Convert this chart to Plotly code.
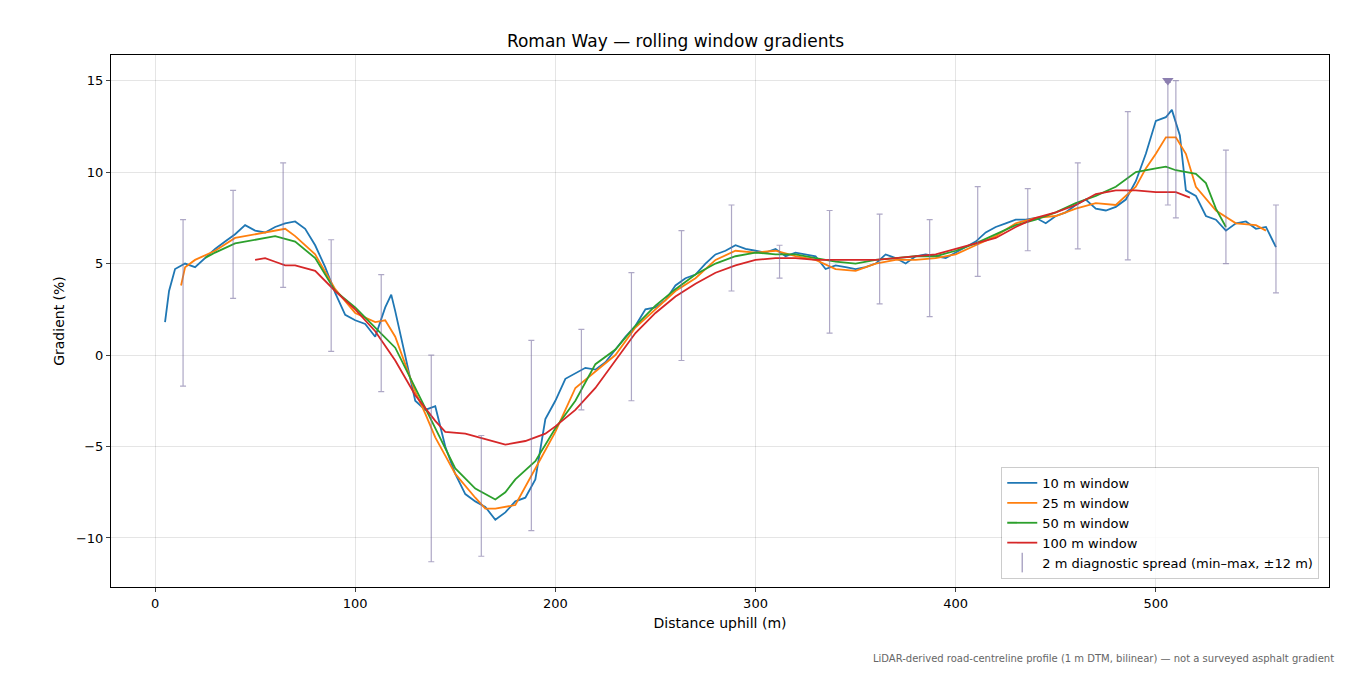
import plotly.graph_objects as go

x10 = [5,7,10,15,20,25,30,35,40,45,50,55,60,65,70,75,80,85,90,95,100,105,110,115,118,120,125,130,135,140,145,150,155,160,165,170,175,180,185,190,195,200,205,210,215,220,225,230,235,240,245,250,255,260,265,270,275,280,285,290,295,300,305,310,315,320,325,330,335,340,345,350,355,360,365,370,375,380,385,390,395,400,405,410,415,420,425,430,435,440,445,450,455,460,465,470,475,480,485,490,495,500,505,508,512,515,520,525,530,535,540,545,550,555,560]
y10 = [1.8,3.5,4.7,5.0,4.8,5.3,5.8,6.2,6.6,7.1,6.8,6.7,7.0,7.2,7.3,6.9,6.0,4.8,3.4,2.2,1.9,1.7,1.0,2.6,3.3,2.4,0.0,-2.5,-3.0,-2.8,-5.0,-6.5,-7.6,-8.0,-8.3,-9.0,-8.6,-8.0,-7.8,-6.8,-3.5,-2.5,-1.3,-1.0,-0.7,-0.8,-0.4,0.3,1.0,1.6,2.5,2.6,3.0,3.8,4.2,4.4,5.0,5.5,5.7,6.0,5.8,5.7,5.6,5.8,5.4,5.6,5.5,5.4,4.7,4.9,4.8,4.7,4.8,5.0,5.5,5.3,5.0,5.4,5.5,5.4,5.3,5.6,5.9,6.2,6.7,7.0,7.2,7.4,7.4,7.5,7.2,7.6,7.8,8.2,8.5,8.0,7.9,8.1,8.5,9.5,11.0,12.8,13.0,13.4,12.0,9.0,8.7,7.6,7.4,6.8,7.2,7.3,6.9,7.0,5.9]

x25 = [13,15,20,30,40,50,60,65,70,80,90,100,110,115,120,125,130,135,140,145,150,160,165,170,180,190,200,205,210,220,230,240,250,260,270,280,290,300,310,320,330,340,350,360,370,380,390,400,410,420,430,440,450,460,470,480,490,495,500,505,510,515,520,530,540,550,555]
y25 = [3.8,4.8,5.2,5.7,6.4,6.6,6.8,6.9,6.5,5.5,3.6,2.3,1.8,1.9,1.0,-0.5,-2.0,-3.2,-4.5,-5.5,-6.5,-7.8,-8.4,-8.4,-8.2,-6.2,-4.2,-3.0,-1.8,-0.9,0.0,1.5,2.5,3.5,4.2,5.2,5.7,5.6,5.7,5.4,5.2,4.7,4.6,5.0,5.2,5.2,5.3,5.5,6.0,6.5,7.2,7.5,7.6,8.0,8.3,8.2,9.2,10.2,11.0,11.9,11.9,11.0,9.2,7.9,7.2,7.1,6.8]

x50 = [25,30,40,50,60,70,80,90,100,110,120,130,140,150,160,170,175,180,190,200,210,220,230,240,250,260,270,280,290,300,310,320,330,340,350,360,370,380,390,400,410,420,430,440,450,460,470,480,490,500,505,510,520,525,530,535]
y50 = [5.3,5.6,6.1,6.3,6.5,6.2,5.3,3.5,2.6,1.5,0.4,-1.8,-4.0,-6.2,-7.3,-7.9,-7.5,-6.8,-5.8,-4.0,-2.5,-0.5,0.3,1.6,2.7,3.6,4.4,5.0,5.4,5.6,5.5,5.5,5.3,5.1,5.0,5.2,5.3,5.4,5.4,5.7,6.1,6.6,7.1,7.4,7.8,8.3,8.7,9.2,10.0,10.2,10.3,10.1,9.9,9.4,8.0,7.0]

x100 = [50,55,60,65,70,80,90,100,110,120,130,140,145,155,165,175,185,195,200,210,220,230,240,250,260,270,280,290,300,310,320,330,340,350,360,370,380,390,400,410,420,430,440,450,460,470,480,490,500,510,517]
y100 = [5.2,5.3,5.1,4.9,4.9,4.6,3.5,2.5,1.3,-0.3,-2.2,-3.6,-4.2,-4.3,-4.6,-4.9,-4.7,-4.3,-3.9,-3.0,-1.8,-0.3,1.2,2.3,3.2,3.9,4.5,4.9,5.2,5.3,5.3,5.2,5.2,5.2,5.2,5.3,5.4,5.5,5.8,6.1,6.4,7.0,7.5,7.8,8.2,8.8,9.0,9.0,8.9,8.9,8.6]

err_x = [14,39,64,88,113,138,163,188,213,238,263,288,312,337,362,387,411,436,461,486,506,510,535,560]
err_hi = [7.4,9.0,10.5,6.3,4.4,0.0,-4.4,0.8,1.4,4.5,6.8,8.2,6.0,7.9,7.7,7.4,9.2,9.1,10.5,13.3,14.9,15.0,11.2,8.2]
err_lo = [-1.7,3.1,3.7,0.2,-2.0,-11.3,-11.0,-9.6,-3.0,-2.5,-0.3,3.5,4.2,1.2,2.8,2.1,4.3,5.7,5.8,5.2,8.2,7.5,5.0,3.4]

peak_x = [506]
peak_y = [15.0]

mid = [(h + l) / 2 for h, l in zip(err_hi, err_lo)]
half = [(h - l) / 2 for h, l in zip(err_hi, err_lo)]
ERRC = "rgba(120,110,160,0.6)"

fig = go.Figure()
for xs, ys, name, col in [(x10, y10, "10 m window", "#1f77b4"),
                          (x25, y25, "25 m window", "#ff7f0e"),
                          (x50, y50, "50 m window", "#2ca02c"),
                          (x100, y100, "100 m window", "#d62728")]:
    fig.add_trace(go.Scatter(x=xs, y=ys, mode="lines", name=name,
                             line=dict(color=col, width=1.8)))
fig.add_trace(go.Scatter(x=err_x, y=mid, mode="markers", showlegend=False,
                         marker=dict(size=0.1, color="rgba(0,0,0,0)"),
                         error_y=dict(type="data", array=half, visible=True,
                                      color=ERRC, thickness=1.2, width=3)))
fig.add_trace(go.Scatter(x=[None], y=[None], mode="markers",
                         name="2 m diagnostic spread (min–max, ±12 m)",
                         marker=dict(symbol="line-ns", size=14, line=dict(color=ERRC, width=1.5))))
fig.add_trace(go.Scatter(x=peak_x, y=peak_y, mode="markers", showlegend=False,
                         marker=dict(symbol="triangle-down", size=10, color="#8c7fb0")))

axis_common = dict(showline=True, linecolor="black", linewidth=1, mirror=True,
                   ticks="outside", ticklen=4, showgrid=True, gridcolor="rgba(0,0,0,0.1)",
                   zeroline=False, tickfont=dict(size=13, color="black"))
fig.update_layout(
    width=1335, height=667, plot_bgcolor="white", paper_bgcolor="white",
    font=dict(family="DejaVu Sans", color="black"),
    margin=dict(l=103, r=14, t=47, b=88),
    title=dict(text="Roman Way — rolling window gradients", x=0.5, xanchor="center",
               y=0.96, font=dict(size=17)),
    xaxis=dict(range=[-22, 586.5], tickvals=[0, 100, 200, 300, 400, 500],
               title=dict(text="Distance uphill (m)", font=dict(size=14), standoff=8), **axis_common),
    yaxis=dict(range=[-12.68, 16.4], tickvals=[-10, -5, 0, 5, 10, 15],
               ticktext=["−10", "−5", "0", "5", "10", "15"],
               title=dict(text="Gradient (%)", font=dict(size=14), standoff=8), **axis_common),
    legend=dict(x=0.992, y=0.015, xanchor="right", yanchor="bottom",
                bordercolor="rgba(0,0,0,0.2)", borderwidth=1, bgcolor="rgba(255,255,255,0.85)",
                font=dict(size=13)),
    annotations=[dict(text="LiDAR-derived road-centreline profile (1 m DTM, bilinear) — not a surveyed asphalt gradient",
                      xref="paper", yref="paper", x=1.006, y=-0.12, xanchor="right", yanchor="top",
                      showarrow=False, font=dict(size=10, color="#666666"))],
)
fig.write_html("out.html")
